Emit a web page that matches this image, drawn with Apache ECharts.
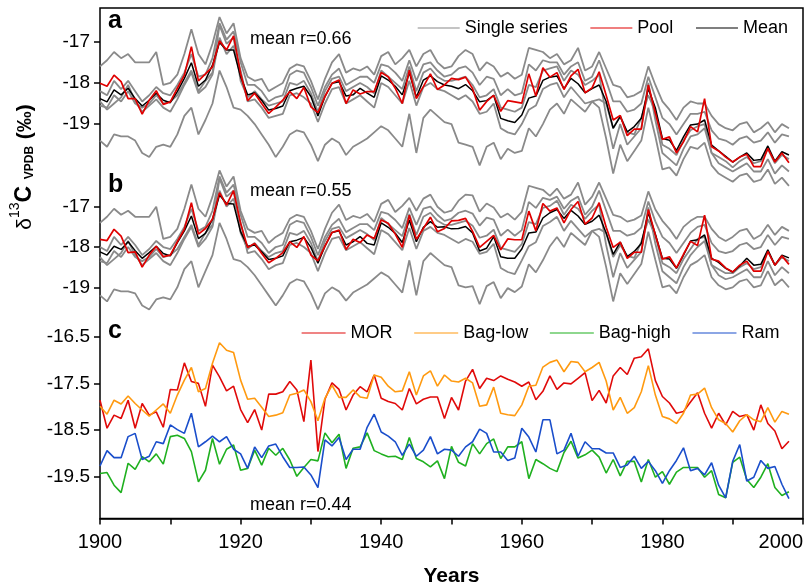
<!DOCTYPE html>
<html lang="en">
<head>
<meta charset="UTF-8">
<title>d13C series</title>
<script src="https://cdn.jsdelivr.net/npm/echarts@6.0.0/dist/echarts.min.js"></script>
<style>
  html, body { margin: 0; padding: 0; background: #fff; }
  #chart { width: 805px; height: 586px; }
</style>
</head>
<body>
<div id="chart"></div>
<script>
// years 1900..1998, annual
var years = [];
for (var y = 1900; y <= 1998; y++) years.push(y);

var xTicks = [1900, 1920, 1940, 1960, 1980, 2000];
var ticksAB = [-19, -18, -17];
var ticksC = [-19.5, -18.5, -17.5, -16.5];

// ---- panel a ----
var poolA = [
  -18.01, -18.08, -17.81, -17.97, -18.38, -18.38, -18.76, -18.42, -18.19, -18.52,
  -18.46, -18.13, -17.81, -17.12, -17.95, -17.78, -17.61, -16.98, -17.2, -16.86,
  -17.77, -18.43, -18.25, -18.5, -18.74, -18.59, -18.42, -18.21, -18.38, -18.11,
  -18.58, -18.72, -18.33, -18.01, -17.93, -18.5, -18.17, -18.27, -18.21, -18.21,
  -17.75, -17.85, -18.13, -18.5, -17.69, -18.38, -18.09, -17.78, -18.16, -18.05,
  -17.89, -17.92, -17.86, -18.14, -18.66, -18.45, -18.3, -18.69, -18.43, -18.46,
  -18.49, -17.78, -18.32, -17.63, -17.86, -17.75, -18.16, -17.83, -17.67, -18.24,
  -18.12, -17.73, -18.3, -18.9, -18.79, -19.28, -19.12, -19.12, -18.05, -18.73,
  -19.37, -19.31, -19.7, -19.43, -19.06, -19.19, -18.38, -19.55, -19.65, -19.8,
  -19.92, -19.8, -19.73, -20.03, -20.03, -19.59, -19.92, -19.7, -19.94
];
var meanA = [
  -18.38, -18.46, -18.17, -18.29, -18.13, -18.38, -18.56, -18.42, -18.25, -18.42,
  -18.48, -18.21, -17.89, -17.51, -18.08, -17.93, -17.57, -17.02, -17.2, -17.2,
  -17.85, -18.29, -18.24, -18.42, -18.66, -18.62, -18.56, -18.19, -18.13, -18.08,
  -18.33, -18.8, -18.33, -18.01, -17.97, -18.32, -18.29, -18.13, -18.25, -18.35,
  -17.83, -17.93, -18.08, -18.29, -17.75, -18.35, -17.93, -17.83, -17.97, -18.05,
  -18.08, -18.14, -18.04, -18.19, -18.46, -18.43, -18.3, -18.86, -18.92, -18.96,
  -18.78, -18.37, -18.32, -17.94, -17.86, -17.83, -18.14, -17.89, -18.02, -18.24,
  -18.14, -18.05, -18.45, -19.1, -18.82, -19.19, -19.06, -18.86, -18.14, -18.61,
  -19.35, -19.39, -19.64, -19.31, -19.02, -19.0, -18.9, -19.51, -19.65, -19.78,
  -19.92, -19.8, -19.7, -19.88, -19.86, -19.53, -19.9, -19.67, -19.75
];
var singleA1 = [
  -17.6, -17.45, -17.25, -17.4, -17.3, -17.5, -17.5, -17.5, -17.25, -18.05,
  -18.0, -17.8, -17.3, -16.7, -17.3, -17.55, -17.05, -16.4, -16.8, -16.55,
  -17.4, -17.85, -17.95, -17.9, -18.2, -18.1, -18.0, -17.65, -17.55, -17.6,
  -17.95, -18.4, -17.9, -17.5, -17.3, -17.75, -17.65, -17.7, -17.6, -17.8,
  -17.35, -17.25, -17.55, -17.4, -17.2, -17.6, -17.3, -17.2, -17.5, -17.65,
  -17.6, -17.35, -17.2, -17.3, -17.7, -17.5, -17.6, -17.85, -17.75, -17.9,
  -17.8, -17.15, -17.2, -17.25, -17.4, -17.3, -17.55, -17.45, -17.15, -17.7,
  -17.6, -17.25, -17.65, -18.05, -18.1, -18.35, -18.3, -18.2, -17.6, -18.05,
  -18.45, -18.65, -18.9, -18.6, -18.45, -18.5, -18.5, -18.8, -19.0, -19.1,
  -19.15, -19.0, -18.95, -19.2, -19.1, -18.95, -19.2, -19.0, -19.1
];
var singleA2 = [
  -18.2, -18.3, -17.95, -18.15, -17.95, -18.2, -18.45, -18.3, -18.1, -18.25,
  -18.3, -18.05, -17.75, -17.3, -17.85, -17.8, -17.4, -16.55, -16.95, -16.75,
  -17.5, -18.05, -18.05, -18.2, -18.45, -18.35, -18.3, -17.8, -17.7, -17.75,
  -18.1, -18.55, -18.1, -17.8, -17.65, -18.05, -17.95, -17.85, -17.85, -18.0,
  -17.55, -17.6, -17.75, -17.95, -17.45, -17.95, -17.55, -17.5, -17.7, -17.85,
  -17.8, -17.65, -17.6, -17.75, -18.05, -17.85, -17.9, -18.3, -18.15, -18.3,
  -18.25, -17.55, -17.7, -17.45, -17.5, -17.5, -17.8, -17.6, -17.5, -17.95,
  -17.85, -17.45, -17.95, -18.45, -18.45, -18.7, -18.65, -18.5, -17.85, -18.35,
  -18.85, -19.0, -19.25, -19.0, -18.75, -18.75, -18.7, -19.15, -19.35, -19.4,
  -19.5, -19.35, -19.3, -19.45, -19.4, -19.2, -19.45, -19.25, -19.3
];
var singleA3 = [
  -18.55, -18.6, -18.3, -18.45, -18.2, -18.5, -18.6, -18.5, -18.3, -18.5,
  -18.45, -18.3, -18.0, -17.7, -18.2, -17.95, -17.75, -16.6, -17.05, -16.9,
  -17.95, -18.35, -18.2, -18.4, -18.55, -18.5, -18.45, -18.0, -18.05, -17.95,
  -18.25, -18.7, -18.2, -17.9, -17.85, -18.2, -18.1, -18.0, -18.1, -18.25,
  -17.7, -17.85, -18.0, -18.15, -17.6, -18.2, -17.75, -17.65, -17.85, -17.95,
  -17.95, -17.9, -17.85, -18.05, -18.35, -18.3, -18.15, -18.6, -18.65, -18.7,
  -18.6, -18.05, -18.1, -17.7, -17.65, -17.6, -17.95, -17.7, -17.8, -18.05,
  -17.95, -17.8, -18.8, -19.6, -19.0, -19.5, -19.3, -19.1, -18.0, -18.9,
  -19.7, -19.85, -20.0, -19.6, -19.3, -19.25, -19.1, -19.7, -19.8, -19.9,
  -20.05, -19.9, -19.8, -19.95, -19.9, -19.6, -19.95, -19.75, -19.85
];
var singleA4 = [
  -19.4, -19.55, -19.25, -19.3, -19.3, -19.4, -19.7, -19.8, -19.55, -19.5,
  -19.55, -19.25, -18.8, -18.6, -19.25, -18.9, -18.5, -17.7, -18.1, -18.6,
  -18.65, -18.8, -19.0, -19.25, -19.5, -19.8, -19.55, -19.25, -19.15, -19.2,
  -19.5, -19.9, -19.5, -19.35, -19.45, -19.75, -19.55, -19.45, -19.35, -19.2,
  -19.05, -19.15, -19.35, -19.55, -18.75, -19.7, -18.85, -18.65, -18.8, -18.95,
  -19.0, -19.45, -19.5, -19.55, -20.0, -19.55, -19.45, -19.85, -19.6, -19.7,
  -19.65, -19.1, -19.3, -19.0, -18.65, -18.5, -18.75, -18.4, -18.55, -18.7,
  -18.45, -18.4, -18.5, -19.1, -18.8, -19.2, -19.25, -18.85, -18.3, -18.7,
  -19.5, -19.6, -19.75, -19.4, -19.15, -19.05, -19.0, -19.7, -19.95, -20.05,
  -20.15, -20.05, -19.95, -20.15, -20.15, -19.85, -20.2, -20.0, -20.15
];
var singleA5 = [
  -18.45, -18.65, -18.5, -18.35, -18.05, -18.45, -18.7, -18.55, -18.4, -18.6,
  -18.7, -18.4, -18.05, -17.75, -18.25, -18.1, -17.8, -16.9, -17.3, -17.1,
  -17.7, -18.45, -18.4, -18.6, -18.85, -18.8, -18.75, -18.3, -18.25, -18.35,
  -18.5, -18.95, -18.5, -18.15, -18.1, -18.5, -18.4, -18.3, -18.45, -18.6,
  -18.0, -18.1, -18.3, -18.5, -17.95, -18.55, -18.1, -18.0, -18.15, -18.2,
  -18.3, -18.4, -18.3, -18.45, -18.75, -18.7, -18.5, -19.1, -19.2, -19.25,
  -19.0, -18.65, -18.55, -18.15, -18.05, -18.0, -18.35, -18.1, -18.3, -18.5,
  -18.45, -18.6, -19.35, -20.2, -19.5, -19.9, -19.65, -19.4, -18.6, -19.3,
  -20.1, -20.05, -20.25, -19.85, -19.55, -19.6, -19.45, -20.0, -20.2, -20.3,
  -20.4, -20.25, -20.2, -20.4, -20.35, -20.1, -20.45, -20.3, -20.5
];

// ---- panel b ----
var poolB = [
  -17.81, -17.84, -17.56, -17.73, -18.14, -18.12, -18.5, -18.2, -17.98, -18.24,
  -18.2, -17.87, -17.56, -16.9, -17.68, -17.54, -17.31, -16.65, -16.96, -16.6,
  -17.41, -18.01, -17.91, -18.16, -18.39, -18.28, -18.14, -17.87, -18.01, -17.74,
  -18.2, -18.34, -17.98, -17.64, -17.58, -18.06, -17.81, -17.89, -17.7, -17.79,
  -17.33, -17.41, -17.68, -18.01, -17.21, -17.81, -17.54, -17.26, -17.62, -17.54,
  -17.35, -17.34, -17.29, -17.61, -18.01, -17.86, -17.71, -18.07, -17.8, -17.82,
  -17.82, -17.11, -17.6, -16.92, -17.11, -17.03, -17.4, -17.07, -16.87, -17.43,
  -17.28, -16.9, -17.51, -18.01, -17.88, -18.28, -18.13, -18.13, -17.07, -17.7,
  -18.3, -18.24, -18.52, -18.18, -17.86, -17.96, -17.21, -18.3, -18.35, -18.52,
  -18.62, -18.45, -18.35, -18.6, -18.6, -18.11, -18.45, -18.22, -18.43
];
var meanB = [
  -18.12, -18.2, -17.98, -18.06, -17.87, -18.09, -18.28, -18.14, -17.98, -18.16,
  -18.22, -17.89, -17.6, -17.23, -17.79, -17.66, -17.31, -16.71, -16.92, -16.93,
  -17.62, -17.98, -17.95, -18.12, -18.31, -18.28, -18.22, -17.87, -17.83, -17.76,
  -18.01, -18.4, -17.98, -17.64, -17.6, -17.95, -17.87, -17.74, -17.91, -17.95,
  -17.4, -17.51, -17.66, -17.89, -17.33, -17.87, -17.51, -17.37, -17.51, -17.5,
  -17.55, -17.54, -17.49, -17.65, -18.1, -18.03, -17.74, -18.24, -18.28, -18.28,
  -18.05, -17.65, -17.63, -17.28, -17.15, -17.07, -17.29, -17.09, -17.23, -17.44,
  -17.36, -17.21, -17.65, -18.18, -17.88, -18.24, -18.11, -17.91, -17.15, -17.68,
  -18.28, -18.3, -18.53, -18.2, -17.85, -17.82, -17.7, -18.28, -18.38, -18.53,
  -18.62, -18.47, -18.28, -18.45, -18.43, -18.07, -18.45, -18.2, -18.27
];
var singleB1 = [
  -17.4, -17.25, -17.05, -17.2, -17.1, -17.25, -17.25, -17.25, -17.0, -17.8,
  -17.75, -17.55, -17.05, -16.45, -17.05, -17.25, -16.75, -16.1, -16.5, -16.25,
  -17.1, -17.55, -17.65, -17.6, -17.9, -17.75, -17.65, -17.3, -17.2, -17.25,
  -17.6, -18.05, -17.55, -17.15, -16.95, -17.33, -17.23, -17.28, -17.18, -17.38,
  -16.93, -16.83, -17.13, -16.98, -16.78, -17.1, -16.8, -16.7, -17.0, -17.15,
  -17.1, -16.85, -16.7, -16.72, -17.12, -16.92, -17.02, -17.27, -17.17, -17.32,
  -17.13, -16.48, -16.53, -16.58, -16.73, -16.55, -16.8, -16.7, -16.4, -16.95,
  -16.75, -16.4, -16.8, -17.2, -17.25, -17.37, -17.32, -17.22, -16.62, -17.07,
  -17.35, -17.55, -17.8, -17.5, -17.35, -17.25, -17.25, -17.55, -17.75, -17.85,
  -17.75, -17.6, -17.55, -17.8, -17.7, -17.45, -17.7, -17.5, -17.6
];
var singleB2 = [
  -18.0, -18.1, -17.75, -17.95, -17.75, -17.95, -18.2, -18.05, -17.85, -18.0,
  -18.05, -17.8, -17.5, -17.05, -17.6, -17.5, -17.1, -16.25, -16.65, -16.45,
  -17.2, -17.75, -17.75, -17.9, -18.15, -18.0, -17.95, -17.45, -17.35, -17.4,
  -17.75, -18.2, -17.75, -17.45, -17.3, -17.63, -17.53, -17.43, -17.43, -17.58,
  -17.13, -17.18, -17.33, -17.53, -17.03, -17.45, -17.05, -17.0, -17.2, -17.35,
  -17.3, -17.15, -17.1, -17.17, -17.47, -17.27, -17.32, -17.72, -17.57, -17.72,
  -17.58, -16.88, -17.03, -16.78, -16.83, -16.75, -17.05, -16.85, -16.75, -17.2,
  -17.0, -16.6, -17.1, -17.6, -17.6, -17.72, -17.67, -17.52, -16.87, -17.37,
  -17.75, -17.9, -18.15, -17.9, -17.65, -17.5, -17.45, -17.9, -18.1, -18.15,
  -18.1, -17.95, -17.9, -18.05, -18.0, -17.7, -17.95, -17.75, -17.8
];
var singleB3 = [
  -18.35, -18.4, -18.1, -18.25, -18.0, -18.25, -18.35, -18.25, -18.05, -18.25,
  -18.2, -18.05, -17.75, -17.45, -17.95, -17.65, -17.45, -16.3, -16.75, -16.6,
  -17.65, -18.05, -17.9, -18.1, -18.25, -18.15, -18.1, -17.65, -17.7, -17.6,
  -17.9, -18.35, -17.85, -17.55, -17.5, -17.78, -17.68, -17.58, -17.68, -17.83,
  -17.28, -17.43, -17.58, -17.73, -17.18, -17.7, -17.25, -17.15, -17.35, -17.45,
  -17.45, -17.4, -17.35, -17.47, -17.77, -17.72, -17.57, -18.02, -18.07, -18.12,
  -17.93, -17.38, -17.43, -17.03, -16.98, -16.85, -17.2, -16.95, -17.05, -17.3,
  -17.1, -16.95, -17.95, -18.75, -18.15, -18.52, -18.32, -18.12, -17.02, -17.92,
  -18.6, -18.75, -18.9, -18.5, -18.2, -18.0, -17.85, -18.45, -18.55, -18.65,
  -18.65, -18.5, -18.4, -18.55, -18.5, -18.1, -18.45, -18.25, -18.35
];
var singleB4 = [
  -19.2, -19.35, -19.05, -19.1, -19.1, -19.15, -19.45, -19.55, -19.3, -19.25,
  -19.3, -19.0, -18.55, -18.35, -19.0, -18.6, -18.2, -17.4, -17.8, -18.3,
  -18.35, -18.5, -18.7, -18.95, -19.2, -19.45, -19.2, -18.9, -18.8, -18.85,
  -19.15, -19.55, -19.15, -19.0, -19.1, -19.33, -19.13, -19.03, -18.93, -18.78,
  -18.63, -18.73, -18.93, -19.13, -18.33, -19.2, -18.35, -18.15, -18.3, -18.45,
  -18.5, -18.95, -19.0, -18.97, -19.42, -18.97, -18.87, -19.27, -19.02, -19.12,
  -18.98, -18.43, -18.63, -18.33, -17.98, -17.75, -18.0, -17.65, -17.8, -17.95,
  -17.6, -17.55, -17.65, -18.25, -17.95, -18.22, -18.27, -17.87, -17.32, -17.72,
  -18.4, -18.5, -18.65, -18.3, -18.05, -17.8, -17.75, -18.45, -18.7, -18.8,
  -18.75, -18.65, -18.55, -18.75, -18.75, -18.35, -18.7, -18.5, -18.65
];
var singleB5 = [
  -18.25, -18.45, -18.3, -18.15, -17.85, -18.2, -18.45, -18.3, -18.15, -18.35,
  -18.45, -18.15, -17.8, -17.5, -18.0, -17.8, -17.5, -16.6, -17.0, -16.8,
  -17.4, -18.15, -18.1, -18.3, -18.55, -18.45, -18.4, -17.95, -17.9, -18.0,
  -18.15, -18.6, -18.15, -17.8, -17.75, -18.08, -17.98, -17.88, -18.03, -18.18,
  -17.58, -17.68, -17.88, -18.08, -17.53, -18.05, -17.6, -17.5, -17.65, -17.7,
  -17.8, -17.9, -17.8, -17.87, -18.17, -18.12, -17.92, -18.52, -18.62, -18.67,
  -18.33, -17.98, -17.88, -17.48, -17.38, -17.25, -17.6, -17.35, -17.55, -17.75,
  -17.6, -17.75, -18.5, -19.35, -18.65, -18.92, -18.67, -18.42, -17.62, -18.32,
  -19.0, -18.95, -19.15, -18.75, -18.45, -18.35, -18.2, -18.75, -18.95, -19.05,
  -19.0, -18.85, -18.8, -19.0, -18.95, -18.6, -18.95, -18.8, -19.0
];

// ---- panel c ----
var mor = [
  -17.86, -18.46, -18.18, -18.25, -17.86, -18.46, -17.93, -18.18, -18.11, -18.44,
  -17.63, -17.64, -17.06, -17.46, -17.5, -17.99, -17.11, -17.36, -17.66, -17.56,
  -18.06, -18.34, -18.06, -18.5, -17.73, -17.73, -17.68, -17.46, -17.64, -18.32,
  -17.0, -18.96, -17.84, -17.49, -17.63, -18.07, -17.75, -17.57, -17.68, -17.32,
  -17.82, -17.89, -17.93, -18.07, -17.61, -17.94, -17.84, -17.79, -17.79, -18.25,
  -17.8, -18.07, -17.45, -17.2, -17.61, -17.39, -17.44, -17.34, -17.41, -17.47,
  -17.56, -17.47, -17.85, -17.67, -17.34, -17.63, -17.49, -17.51, -17.39, -17.27,
  -17.87, -17.65, -17.92, -17.34, -17.16, -17.31, -16.96, -16.93, -16.76, -17.44,
  -17.78, -17.92, -18.14, -18.1, -17.9, -17.7, -18.14, -18.46, -18.14, -18.39,
  -18.1, -18.21, -18.17, -18.5, -17.96, -18.36, -18.52, -18.9, -18.74
];
var bagLow = [
  -17.99, -18.16, -17.86, -17.94, -17.77, -17.93, -18.07, -18.2, -18.07, -17.94,
  -18.14, -17.75, -17.43, -17.16, -17.68, -17.61, -17.07, -16.63, -16.79, -16.84,
  -17.43, -17.84, -17.82, -18.01, -18.21, -18.18, -18.13, -17.75, -17.71, -17.64,
  -17.89, -18.3, -17.82, -17.54, -17.8, -17.8, -17.64, -17.79, -17.82, -17.32,
  -17.37, -17.56, -17.68, -17.66, -17.25, -17.75, -17.34, -17.23, -17.56, -17.32,
  -17.45, -17.47, -17.39, -17.49, -17.99, -17.96, -17.58, -18.14, -18.17, -18.19,
  -17.96, -17.56, -17.54, -17.15, -17.05, -17.0, -17.25, -17.03, -17.05, -17.25,
  -17.16, -17.05, -17.45, -18.07, -17.8, -18.14, -18.02, -17.68, -17.12, -17.75,
  -18.21, -18.26, -18.36, -18.14, -17.75, -17.73, -17.6, -18.02, -18.28, -18.36,
  -18.54, -18.3, -18.17, -18.28, -18.32, -18.02, -18.33, -18.1, -18.16
];
var bagHigh = [
  -19.43, -19.41, -19.68, -19.84, -19.21, -19.34, -19.07, -19.18, -19.01, -19.23,
  -18.64, -18.61, -18.68, -18.96, -19.61, -19.36, -18.68, -19.23, -18.91, -18.82,
  -19.36, -19.32, -18.93, -19.25, -18.89, -19.04, -18.89, -19.14, -19.49, -19.3,
  -19.13, -19.16, -18.56, -18.77, -18.59, -19.32, -18.89, -18.86, -18.56, -18.94,
  -19.01, -19.07, -19.06, -19.13, -18.66, -19.11, -19.18, -19.29, -19.16, -19.54,
  -18.85, -19.19, -19.27, -18.79, -19.01, -18.79, -18.69, -19.11, -18.86, -18.86,
  -18.75, -19.54, -19.13, -19.22, -19.32, -19.39, -18.98, -18.74, -19.1, -19.03,
  -18.93, -19.08, -19.42, -19.13, -19.48, -19.17, -19.17, -19.61, -19.13, -19.51,
  -19.39, -19.66, -19.4, -19.3, -19.3, -19.3, -19.51, -19.37, -19.88, -19.95,
  -19.19, -19.08, -19.56, -19.73, -19.51, -19.22, -19.73, -19.9, -19.82
];
var ram = [
  -19.27, -18.94, -19.09, -19.09, -18.64, -18.57, -19.13, -19.06, -18.75, -18.79,
  -18.39, -18.49, -18.57, -18.14, -18.86, -18.75, -18.63, -18.75, -18.64, -18.91,
  -19.01, -19.32, -18.86, -19.09, -18.84, -18.8, -19.07, -19.3, -19.3, -19.29,
  -19.46, -19.73, -18.71, -18.84, -18.66, -19.13, -18.91, -18.91, -18.44, -18.16,
  -18.54, -18.63, -18.75, -19.04, -18.8, -19.06, -18.93, -18.64, -19.01, -18.91,
  -18.93, -19.06, -18.86, -18.75, -18.48, -18.57, -18.97, -18.97, -19.15, -19.1,
  -18.46, -18.65, -18.97, -18.28, -18.28, -19.01, -18.93, -18.57, -19.06, -18.75,
  -18.9, -18.9, -18.99, -18.99, -19.3, -19.25, -19.06, -19.32, -19.17, -19.37,
  -19.64, -19.37, -19.15, -18.88, -19.37, -19.32, -19.46, -19.2, -19.68, -19.95,
  -19.17, -18.81, -19.59, -19.51, -19.15, -19.32, -19.28, -19.66, -19.97
];

var FONT = '"Liberation Sans", Arial, sans-serif';
var GREY = '#8a8a8a', RED = '#e00000';

function pairs(vals) {
  return years.map(function (yr, i) { return [yr, vals[i]]; });
}
function line(name, vals, gi, color, width) {
  return {
    name: name, type: 'line', xAxisIndex: gi, yAxisIndex: gi,
    data: pairs(vals), symbol: 'none', clip: false, silent: true,
    lineStyle: { color: color, width: width }, itemStyle: { color: color }
  };
}
function panelY(gi, min, max, ticks) {
  return {
    type: 'value', gridIndex: gi, min: min, max: max,
    axisLine: { show: false }, splitLine: { show: false },
    axisTick: { show: true, length: 6, customValues: ticks, lineStyle: { color: '#000', width: 1.5 } },
    axisLabel: { customValues: ticks, fontSize: 19, color: '#000', fontFamily: FONT, margin: 10 }
  };
}
function hiddenX(gi) {
  return { type: 'value', gridIndex: gi, min: 1900, max: 2000, show: false };
}
var legendText = { fontSize: 18, color: '#000', fontFamily: FONT };

var chart = echarts.init(document.getElementById('chart'));
chart.setOption({
  animation: false,
  backgroundColor: '#fff',
  textStyle: { fontFamily: FONT },
  grid: [
    { left: 100, right: 2, top: 8, bottom: 67.5, show: true, borderColor: '#000', borderWidth: 1.5, outerBoundsMode: 'none' },
    { left: 100, right: 2, top: 8.74, height: 181.3, outerBoundsMode: 'none' },
    { left: 100, right: 2, top: 166.4, height: 145.1, outerBoundsMode: 'none' },
    { left: 100, right: 2, top: 313.35, height: 205.45, outerBoundsMode: 'none' }
  ],
  xAxis: [
    {
      type: 'value', gridIndex: 0, min: 1900, max: 2000, interval: 10,
      axisLine: { show: true, lineStyle: { color: '#000', width: 1.5 } },
      axisTick: { show: true, length: 6, lineStyle: { color: '#000', width: 1.5 } },
      splitLine: { show: false },
      axisLabel: {
        fontSize: 20, color: '#000', fontFamily: FONT, margin: 14, alignMaxLabel: 'right',
        formatter: function (v) { return xTicks.indexOf(v) >= 0 ? String(v) : ''; }
      },
      name: 'Years', nameLocation: 'middle', nameGap: 47,
      nameTextStyle: { fontSize: 21, fontWeight: 'bold', color: '#000', fontFamily: FONT }
    },
    hiddenX(1), hiddenX(2), hiddenX(3)
  ],
  yAxis: [
    { type: 'value', gridIndex: 0, min: 0, max: 1, show: false },
    panelY(1, -20.6, -16.2, ticksAB),
    panelY(2, -19.6, -16.0, ticksAB),
    panelY(3, -20.4, -16.0, ticksC)
  ],
  legend: [
    {
      data: ['Single series', 'Pool', 'Mean'], right: 12, top: 14,
      itemWidth: 42, itemHeight: 2, itemGap: 22, selectedMode: false,
      itemStyle: { opacity: 0 }, lineStyle: { width: 1.2 }, textStyle: legendText
    },
    {
      data: ['MOR', 'Bag-low', 'Bag-high', 'Ram'], left: 296, top: 319,
      itemWidth: 44, itemHeight: 2, itemGap: 21, selectedMode: false,
      itemStyle: { opacity: 0 }, lineStyle: { width: 1.2 }, textStyle: legendText
    }
  ],
  graphic: [
    { type: 'text', left: 108, top: 9, style: { text: 'a', fontSize: 25, fontWeight: 'bold', fill: '#000', fontFamily: FONT } },
    { type: 'text', left: 108, top: 173, style: { text: 'b', fontSize: 25, fontWeight: 'bold', fill: '#000', fontFamily: FONT } },
    { type: 'text', left: 108, top: 319, style: { text: 'c', fontSize: 25, fontWeight: 'bold', fill: '#000', fontFamily: FONT } },
    { type: 'text', left: 250, top: 30, style: { text: 'mean r=0.66', fontSize: 18, fill: '#000', fontFamily: FONT } },
    { type: 'text', left: 250, top: 182, style: { text: 'mean r=0.55', fontSize: 18, fill: '#000', fontFamily: FONT } },
    { type: 'text', left: 250, top: 496, style: { text: 'mean r=0.44', fontSize: 18, fill: '#000', fontFamily: FONT } },
    {
      type: 'text', x: 22, y: 167, rotation: Math.PI / 2,
      style: {
        text: '{d|δ}{s|13}{c|C}{v|  VPDB  }{p|(‰)}',
        align: 'center', verticalAlign: 'middle', fill: '#000',
        rich: {
          d: { fontSize: 21, fontFamily: FONT, lineHeight: 28, verticalAlign: 'bottom' },
          s: { fontSize: 14, fontFamily: FONT, lineHeight: 28, verticalAlign: 'top' },
          c: { fontSize: 23, fontWeight: 'bold', fontFamily: FONT, lineHeight: 28, verticalAlign: 'bottom' },
          v: { fontSize: 12, fontWeight: 'bold', fontFamily: FONT, lineHeight: 28, verticalAlign: 'bottom' },
          p: { fontSize: 21, fontWeight: 'bold', fontFamily: FONT, lineHeight: 28, verticalAlign: 'bottom' }
        }
      }
    }
  ],
  series: [
    line('Single series', singleA1, 1, GREY, 1.8),
    line('Single series', singleA2, 1, GREY, 1.8),
    line('Single series', singleA3, 1, GREY, 1.8),
    line('Single series', singleA4, 1, GREY, 1.8),
    line('Single series', singleA5, 1, GREY, 1.8),
    line('Mean', meanA, 1, '#000', 1.5),
    line('Pool', poolA, 1, RED, 1.7),
    line('Single series', singleB1, 2, GREY, 1.8),
    line('Single series', singleB2, 2, GREY, 1.8),
    line('Single series', singleB3, 2, GREY, 1.8),
    line('Single series', singleB4, 2, GREY, 1.8),
    line('Single series', singleB5, 2, GREY, 1.8),
    line('Mean', meanB, 2, '#000', 1.5),
    line('Pool', poolB, 2, RED, 1.7),
    line('MOR', mor, 3, '#e00a0a', 1.6),
    line('Bag-low', bagLow, 3, '#ff9a10', 1.6),
    line('Bag-high', bagHigh, 3, '#1fb01f', 1.6),
    line('Ram', ram, 3, '#1a4ecb', 1.6)
  ]
});
</script>
</body>
</html>
